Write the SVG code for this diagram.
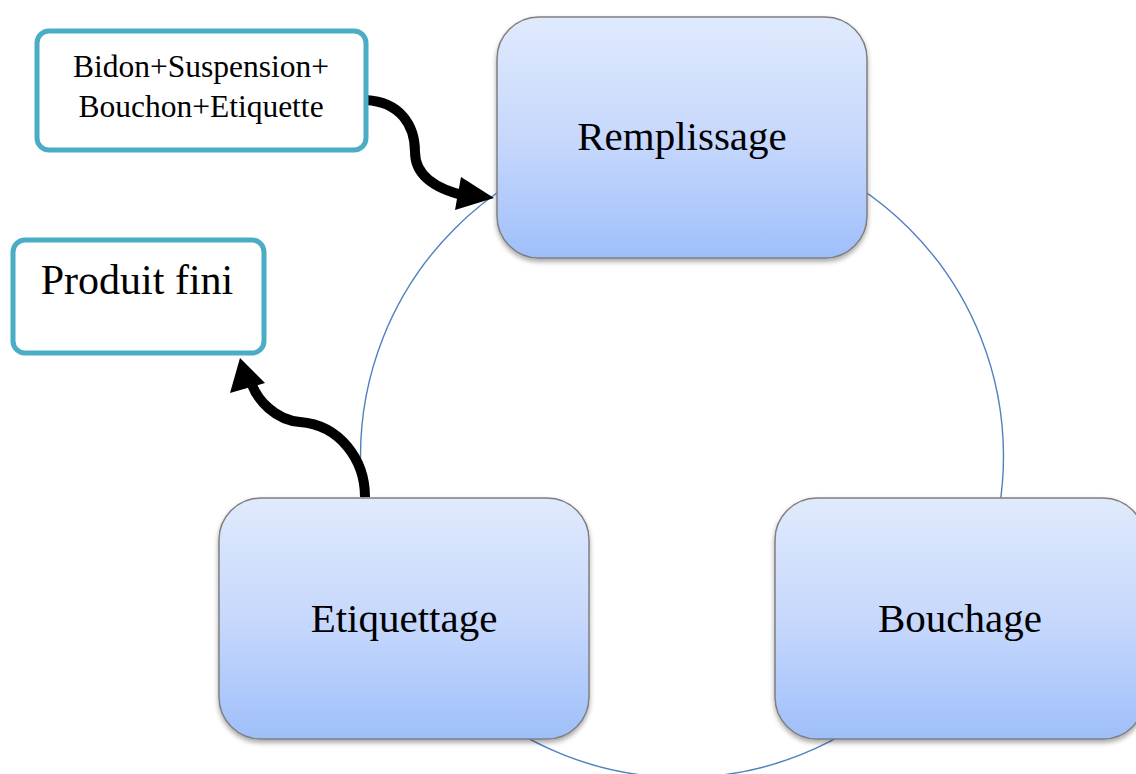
<svg xmlns="http://www.w3.org/2000/svg" width="1136" height="774" viewBox="0 0 1136 774">
<defs>
<linearGradient id="g" x1="0" y1="0" x2="0" y2="1">
<stop offset="0" stop-color="#e0eafd"/>
<stop offset="0.5" stop-color="#c7d8fc"/>
<stop offset="1" stop-color="#9fbffa"/>
</linearGradient>
<filter id="sh" x="-10%" y="-10%" width="120%" height="130%">
<feDropShadow dx="0" dy="3" stdDeviation="2.5" flood-color="#000" flood-opacity="0.35"/>
</filter>
<style>
.step{fill:url(#g);stroke:#7f7f7f;stroke-width:1.5;filter:url(#sh)}
.io{fill:#fff;stroke:#4bacc6;stroke-width:5}
.t{font-family:"Liberation Serif",serif;fill:#000;text-anchor:middle}
.arr{fill:none;stroke:#000;stroke-width:10}
</style>
</defs>
<g id="cycle">
<circle cx="682" cy="456" r="321.5" fill="none" stroke="#4f81bd" stroke-width="1.4"/>
</g>
<g id="connectors">
<path class="arr" d="M366,100 C400,102 415,125 415,152 C415,178 440,190 466,196"/>
<polygon points="494,198 461,177 455,210" fill="#000"/>
<path class="arr" d="M365,497 C365,460 340,425 300,422 C275,420 258,400 252,385"/>
<polygon points="240,358 230,393 265,383" fill="#000"/>
</g>
<g id="remplissage">
<rect class="step" x="497" y="17" width="370" height="241" rx="42"/>
<text class="t" x="682" y="150" font-size="41">Remplissage</text>
</g>
<g id="etiquettage">
<rect class="step" x="219" y="498" width="370" height="241" rx="42"/>
<text class="t" x="404" y="632" font-size="41">Etiquettage</text>
</g>
<g id="bouchage">
<rect class="step" x="775" y="498" width="370" height="241" rx="42"/>
<text class="t" x="960" y="632" font-size="41">Bouchage</text>
</g>
<g id="intrants">
<rect class="io" x="37" y="31" width="329" height="119" rx="12"/>
<text class="t" x="201" y="77" font-size="31.5">Bidon+Suspension+</text>
<text class="t" x="201" y="117" font-size="31.5">Bouchon+Etiquette</text>
</g>
<g id="produit">
<rect class="io" x="13" y="240" width="251" height="113" rx="12"/>
<text class="t" x="137" y="294" font-size="42">Produit fini</text>
</g>
</svg>
